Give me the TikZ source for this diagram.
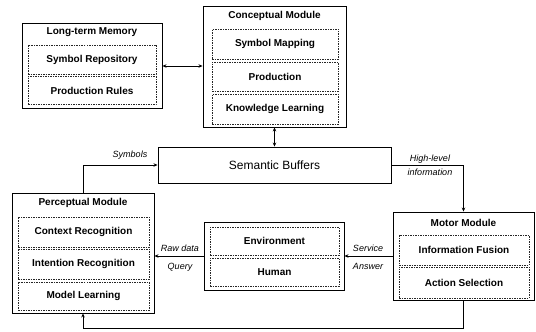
\documentclass[tikz,border=0pt]{standalone}
\usepackage{fontspec}
\setmainfont{Liberation Sans}
\usetikzlibrary{arrows.meta}
\begin{document}
\begin{tikzpicture}[x=1pt,y=-1pt,
 outer/.style={draw=black, line width=0.9pt, rectangle, inner sep=0pt},
 inbox/.style={draw=black!85, dash pattern=on 1.5pt off 1pt, line width=0.6pt, rectangle, inner sep=0pt, font=\fontsize{10}{12}\selectfont\bfseries},
 ttl/.style={font=\fontsize{10}{12}\selectfont\bfseries, inner sep=0pt},
 lbl/.style={font=\fontsize{9}{10}\selectfont\itshape, inner sep=0pt},
 conn/.style={line width=0.7pt, -{Stealth[length=4pt,width=3.5pt]}},
 conn2/.style={line width=0.7pt, {Stealth[length=4pt,width=3.5pt]}-{Stealth[length=4pt,width=3.5pt]}},
]
\useasboundingbox (0,0) rectangle (536,332);

% Long-term Memory
\node[outer, minimum width=140pt, minimum height=85pt] (ltm) at (92,66) {};
\node[ttl] (ltmt) at (92,32) {Long-term Memory};
\node[inbox, minimum width=128pt, minimum height=29pt] (sr) at (92,59.5) {Symbol Repository};
\node[inbox, minimum width=128pt, minimum height=28pt] (pr) at (92,90.5) {Production Rules};

% Conceptual Module
\node[outer, minimum width=143pt, minimum height=121pt] (conc) at (274.5,66.5) {};
\node[ttl] (conct) at (274.5,16) {Conceptual Module};
\node[inbox, minimum width=126pt, minimum height=30pt] (sm) at (275,44) {Symbol Mapping};
\node[inbox, minimum width=126pt, minimum height=29pt] (prod) at (275,76.5) {Production};
\node[inbox, minimum width=126pt, minimum height=30pt] (kl) at (275,109) {Knowledge Learning};

% Semantic Buffers
\node[outer, minimum width=233pt, minimum height=36pt, font=\fontsize{12}{14}\selectfont] (sem) at (274.5,165) {Semantic Buffers};

% Perceptual Module
\node[outer, minimum width=142pt, minimum height=120pt] (perc) at (83,253) {};
\node[ttl] (perct) at (83,203) {Perceptual Module};
\node[inbox, minimum width=131pt, minimum height=30pt] (cr) at (83.5,232) {Context Recognition};
\node[inbox, minimum width=131pt, minimum height=30pt] (ir) at (83.5,264) {Intention Recognition};
\node[inbox, minimum width=131pt, minimum height=28pt] (ml) at (83.5,296) {Model Learning};

% Environment / Human
\node[outer, minimum width=140pt, minimum height=68pt] (env) at (274,256) {};
\node[inbox, minimum width=129pt, minimum height=28pt] (envi) at (274.5,241) {Environment};
\node[inbox, minimum width=129pt, minimum height=28pt] (hum) at (274.5,272) {Human};

% Motor Module
\node[outer, minimum width=141pt, minimum height=88pt] (mot) at (463.5,256) {};
\node[ttl] (mott) at (463.5,223) {Motor Module};
\node[inbox, minimum width=130pt, minimum height=30pt] (inf) at (464,250) {Information Fusion};
\node[inbox, minimum width=130pt, minimum height=31pt] (as) at (464,282.5) {Action Selection};

% connectors
\draw[conn2] (ltm.east) -- (ltm.east -| conc.west);
\draw[conn2] (conc.south) -- (sem.north);
\draw[conn] (perc.north) |- (sem.west);
\draw[conn] (sem.east) -| (mot.north);
\draw[conn] (mot.west) -- (env.east);
\draw[conn] (env.west) -- (env.west -| perc.east);
\coordinate (loop) at (463.5,328);
\draw[conn] (mot.south) -- (loop) -| (perc.south);

% labels
\node[lbl] (lsym) at (130,155) {Symbols};
\node[lbl] (lhl) at (430,159) {High-level};
\node[lbl] (linf) at (430,172) {information};
\node[lbl] (lraw) at (180,248) {Raw data};
\node[lbl] (lq) at (180,267) {Query};
\node[lbl] (lsv) at (368,248) {Service};
\node[lbl] (lans) at (368,266) {Answer};
\end{tikzpicture}
\end{document}
